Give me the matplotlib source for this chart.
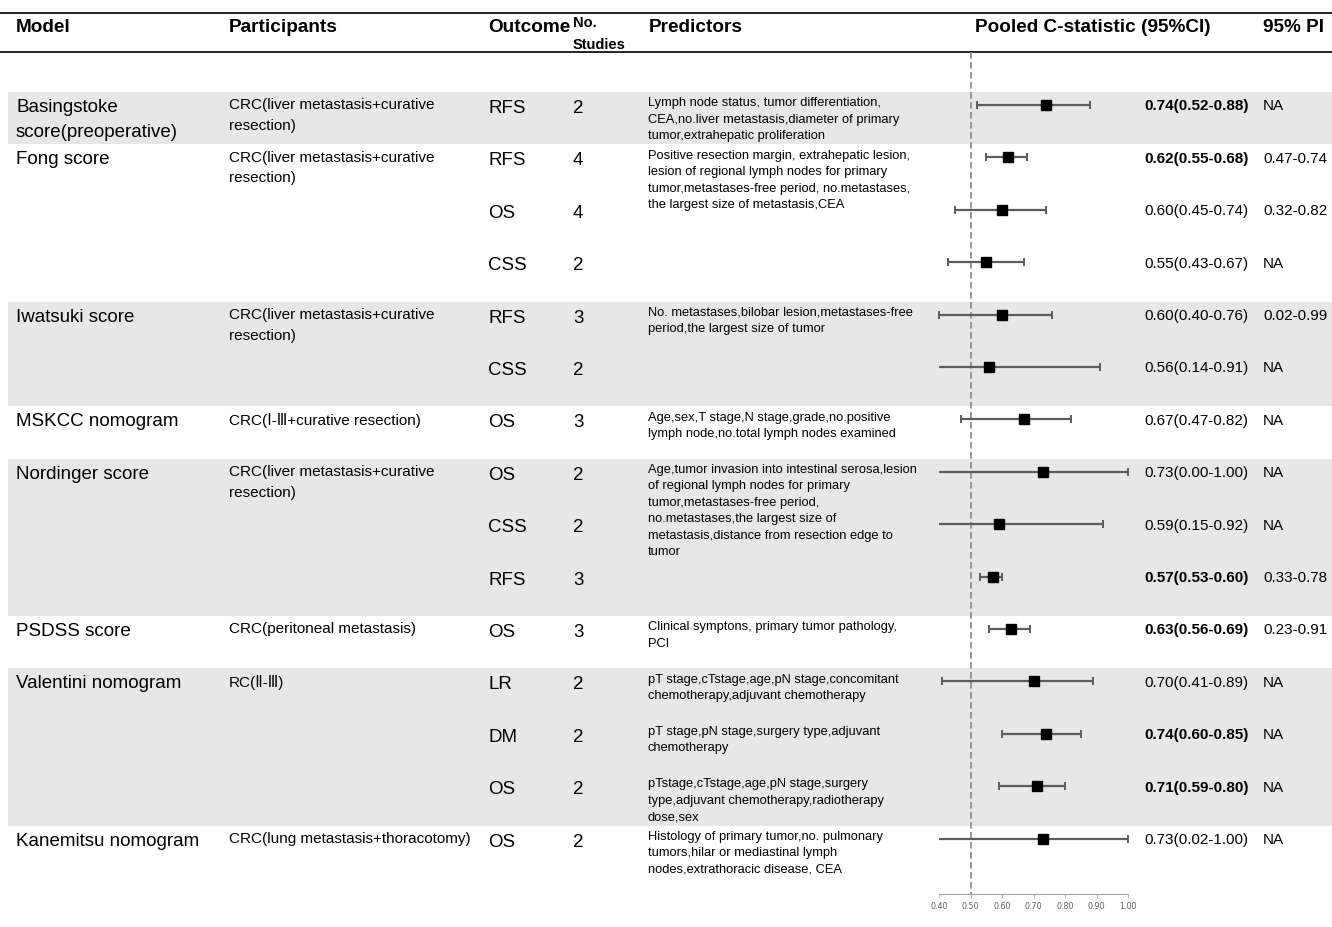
import matplotlib.pyplot as plt
from matplotlib.patches import Rectangle
import numpy as np

plt.rcParams['font.family'] = ['Liberation Sans', 'DejaVu Sans']

# one entry per model
models = ["Basingstoke\nscore(preoperative)", "Fong score", "Iwatsuki score", "MSKCC nomogram",
          "Nordinger score", "PSDSS score", "Valentini nomogram", "Kanemitsu nomogram"]
participants = ["CRC(liver metastasis+curative\nresection)",
                "CRC(liver metastasis+curative\nresection)",
                "CRC(liver metastasis+curative\nresection)",
                "CRC(\u2160-\u2162+curative resection)",
                "CRC(liver metastasis+curative\nresection)",
                "CRC(peritoneal metastasis)",
                "RC(\u2161-\u2162)",
                "CRC(lung metastasis+thoracotomy)"]
model_rows = [1, 3, 2, 1, 3, 1, 3, 1]
shaded = [True, False, True, False, True, False, True, False]

# one entry per row
outcomes = ["RFS", "RFS", "OS", "CSS", "RFS", "CSS", "OS", "OS", "CSS", "RFS",
            "OS", "LR", "DM", "OS", "OS"]
studies = [2, 4, 4, 2, 3, 2, 3, 2, 2, 3, 3, 2, 2, 2, 2]
est = np.array([0.74, 0.62, 0.60, 0.55, 0.60, 0.56, 0.67, 0.73, 0.59, 0.57,
                0.63, 0.70, 0.74, 0.71, 0.73])
lo = np.array([0.52, 0.55, 0.45, 0.43, 0.40, 0.14, 0.47, 0.00, 0.15, 0.53,
               0.56, 0.41, 0.60, 0.59, 0.02])
hi = np.array([0.88, 0.68, 0.74, 0.67, 0.76, 0.91, 0.82, 1.00, 0.92, 0.60,
               0.69, 0.89, 0.85, 0.80, 1.00])
pi = ["NA", "0.47-0.74", "0.32-0.82", "NA", "0.02-0.99", "NA", "NA", "NA", "NA",
      "0.33-0.78", "0.23-0.91", "NA", "NA", "NA", "NA"]
bold = [True, True, False, False, False, False, False, False, False, True,
        True, False, True, True, False]
predictors = [
    "Lymph node status, tumor differentiation,\nCEA,no.liver metastasis,diameter of primary\ntumor,extrahepatic proliferation",
    "Positive resection margin, extrahepatic lesion,\nlesion of regional lymph nodes for primary\ntumor,metastases-free period, no.metastases,\nthe largest size of metastasis,CEA",
    "", "",
    "No. metastases,bilobar lesion,metastases-free\nperiod,the largest size of tumor",
    "",
    "Age,sex,T stage,N stage,grade,no.positive\nlymph node,no.total lymph nodes examined",
    "Age,tumor invasion into intestinal serosa,lesion\nof regional lymph nodes for primary\ntumor,metastases-free period,\nno.metastases,the largest size of\nmetastasis,distance from resection edge to\ntumor",
    "", "",
    "Clinical symptons, primary tumor pathology,\nPCI",
    "pT stage,cTstage,age,pN stage,concomitant\nchemotherapy,adjuvant chemotherapy",
    "pT stage,pN stage,surgery type,adjuvant\nchemotherapy",
    "pTstage,cTstage,age,pN stage,surgery\ntype,adjuvant chemotherapy,radiotherapy\ndose,sex",
    "Histology of primary tumor,no. pulmonary\ntumors,hilar or mediastinal lymph\nnodes,extrathoracic disease, CEA",
]
ticks = [0.40, 0.50, 0.60, 0.70, 0.80, 0.90, 1.00]

W, H = 1332, 928
PITCH = 52.4   # px per row
ROW0 = 106     # px, centre of first row


def py(p):
    # pixel y -> row units
    return (p - ROW0) / PITCH


def top(y, fs, shift=0):
    # top of a text block whose first line of capitals sits centred on y
    return y + ((0.358 - 0.73) * fs * 100 / 72 + shift) / PITCH


fig = plt.figure(figsize=(W / 100, H / 100), dpi=100)
ax = fig.add_axes([0, 0, 1, 1])
ax.set_xlim(0, W)
ax.set_ylim(py(H), py(0))
ax.axis('off')

rows = np.arange(len(outcomes))
starts = np.cumsum([0] + model_rows[:-1])

# shaded bands
for s, n, sh in zip(starts, model_rows, shaded):
    if sh:
        ax.add_patch(Rectangle((8, s - 13 / PITCH), W - 8, n, color='#e7e7e7', lw=0, zorder=0))

# header
ax.hlines([py(14), py(53)], 0, W, color='black', lw=1.2)
hdr = dict(fontsize=13.7, fontweight='bold', va='center')
ax.text(16, py(28), "Model", **hdr)
ax.text(229, py(28), "Participants", **hdr)
ax.text(488, py(28), "Outcome", **hdr)
ax.text(573, py(16), "No.\nStudies", fontsize=10.5, fontweight='bold', va='top', linespacing=1.75)
ax.text(649, py(28), "Predictors", **hdr)
ax.text(975, py(28), "Pooled C-statistic (95%CI)", **hdr)
ax.text(1263, py(28), "95% PI", **hdr)

# model and participant columns
for s, m, p in zip(starts, models, participants):
    ax.text(16, top(s, 13.5), m, fontsize=13.5, va='top', linespacing=1.58)
    ax.text(229, top(s, 11, -2), p, fontsize=11, va='top', linespacing=1.6)

# per-row columns
for i in rows:
    ax.text(488, top(i, 13.5, 1), outcomes[i], fontsize=13.5, va='top')
    ax.text(573, top(i, 13.5, 1), str(studies[i]), fontsize=13.5, va='top')
    if predictors[i]:
        ax.text(648, top(i, 9.3, -4), predictors[i], fontsize=9.3, va='top', linespacing=1.5)
    label = f"{est[i]:.2f}({lo[i]:.2f}-{hi[i]:.2f})"
    ax.text(1144, top(i, 11, -1), label, fontsize=11, va='top',
            fontweight='bold' if bold[i] else 'normal')
    ax.text(1263, top(i, 11, -1), pi[i], fontsize=11, va='top')

# forest plot
fx = fig.add_axes([939 / W, (H - 895) / H, (1128 - 939) / W, 895 / H])
fx.set_facecolor('none')
fx.set_xlim(0.4, 1.0)
fx.set_ylim(py(895), py(0))
for side in ['left', 'right', 'top']:
    fx.spines[side].set_visible(False)
fx.spines['bottom'].set_color('#a0a0a0')
fx.spines['bottom'].set_linewidth(0.8)
fx.set_yticks([])
fx.set_xticks(ticks)
fx.set_xticklabels([f"{t:.2f}" for t in ticks], family='DejaVu Sans')
fx.tick_params(axis='x', length=3, width=0.6, color='#b0b0b0', labelsize=5.8,
               labelcolor='#606060', pad=2)

fx.vlines(0.5, py(53), py(895), color='#888888', lw=1.2, ls=(0, (4, 2)), zorder=1)
bar_col = '#5c5c5c'
fx.hlines(rows, np.clip(lo, 0.4, 1.0), hi, color=bar_col, lw=1.6, zorder=2)
in_lo = lo >= 0.4
fx.plot(lo[in_lo], rows[in_lo], '|', ms=6, mew=1.4, color=bar_col, clip_on=False, zorder=2)
fx.plot(hi, rows, '|', ms=6, mew=1.4, color=bar_col, clip_on=False, zorder=2)
fx.plot(est, rows, 's', ms=7.5, color='black', clip_on=False, zorder=3)

fig.savefig("out.png", dpi=100)
